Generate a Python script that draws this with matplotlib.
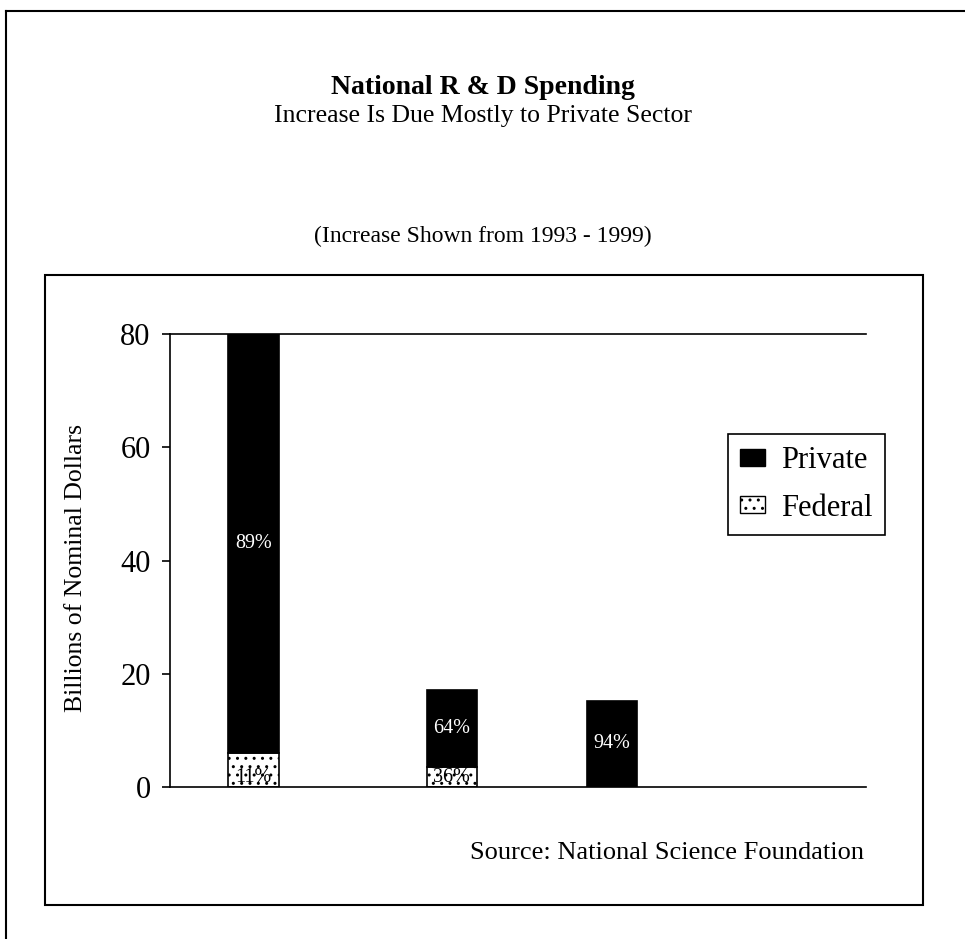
import numpy as np
import matplotlib
matplotlib.use("Agg")
import matplotlib.pyplot as plt
from matplotlib.patches import Rectangle, Patch
from matplotlib.lines import Line2D

plt.rcParams['font.family'] = ['Liberation Serif', 'DejaVu Serif']
plt.rcParams['hatch.linewidth'] = 1.0

# data (billions of nominal dollars, increase 1993-1999)
x_pos = [1.2, 4.05, 6.35]
private = [74.0, 13.6, 15.2]
federal = [6.0, 3.5, 0.0]
private_pct = ['89%', '64%', '94%']
federal_pct = ['11%', '36%', '']
yticks = [0, 20, 40, 60, 80]

W, H = 965, 939
fig = plt.figure(figsize=(W / 100, H / 100), dpi=100)

def fx(px):
    return px / W

def fy(py):
    return 1 - py / H

# outer frame (only top and left edges are in the picture) and inner box
fig.add_artist(Line2D([fx(6), 1.0], [fy(11), fy(11)], color='black', lw=1.5))
fig.add_artist(Line2D([fx(6), fx(6)], [fy(11), 0.0], color='black', lw=1.5))
fig.add_artist(Rectangle((fx(45), fy(905)), fx(923) - fx(45), fy(275) - fy(905),
                         fill=False, edgecolor='black', lw=1.5))

ax = fig.add_axes([fx(170), fy(787), fx(866) - fx(170), fy(334) - fy(787)])

ax.bar(x_pos, federal, width=0.72, color='white', edgecolor='black',
       hatch='..', lw=1.2, label='Federal')
ax.bar(x_pos, private, width=0.72, bottom=federal, color='black',
       edgecolor='black', lw=1.2, label='Private')

for x, p, f, lab in zip(x_pos, private, federal, private_pct):
    ax.text(x, f + p / 2, lab, color='white', ha='center', va='center', fontsize=14.5)
for x, lab in zip(x_pos, federal_pct):
    if lab:
        ax.annotate(lab, (x, 0), xytext=(0, 7), textcoords='offset points',
                    ha='center', va='center', fontsize=14.5, color='black')

ax.set_xlim(0, 10)
ax.set_ylim(0, 80)
ax.set_xticks([])
ax.set_yticks(yticks)
ax.tick_params(axis='y', direction='out', length=6, width=1.2, pad=8, labelsize=22)
ax.spines['right'].set_visible(False)
for s in ['left', 'top', 'bottom']:
    ax.spines[s].set_linewidth(1.2)

fig.text(fx(76), fy(568), 'Billions of Nominal Dollars', rotation=90,
         ha='center', va='center', fontsize=18.5)

handles = [Patch(facecolor='black', edgecolor='black'),
           Patch(facecolor='white', edgecolor='black', hatch='..')]
leg = fig.legend(handles, ['Private', 'Federal'], loc='upper left',
                 bbox_to_anchor=(fx(728), fy(434)), borderaxespad=0, fontsize=22,
                 frameon=True, fancybox=False, edgecolor='black', framealpha=1,
                 handlelength=0.8, handleheight=0.45, handletextpad=0.55,
                 labelspacing=0.6, borderpad=0.4)
leg.get_frame().set_linewidth(1.2)

fig.text(0.5, fy(88), 'National R & D Spending', ha='center', va='center',
         fontsize=20, fontweight='bold')
fig.text(0.5, fy(116), 'Increase Is Due Mostly to Private Sector', ha='center',
         va='center', fontsize=18.5)
fig.text(0.5, fy(236), '(Increase Shown from 1993 - 1999)', ha='center',
         va='center', fontsize=17)
fig.text(fx(864), fy(853), 'Source: National Science Foundation', ha='right',
         va='center', fontsize=19)

fig.savefig('out.png', dpi=100)
